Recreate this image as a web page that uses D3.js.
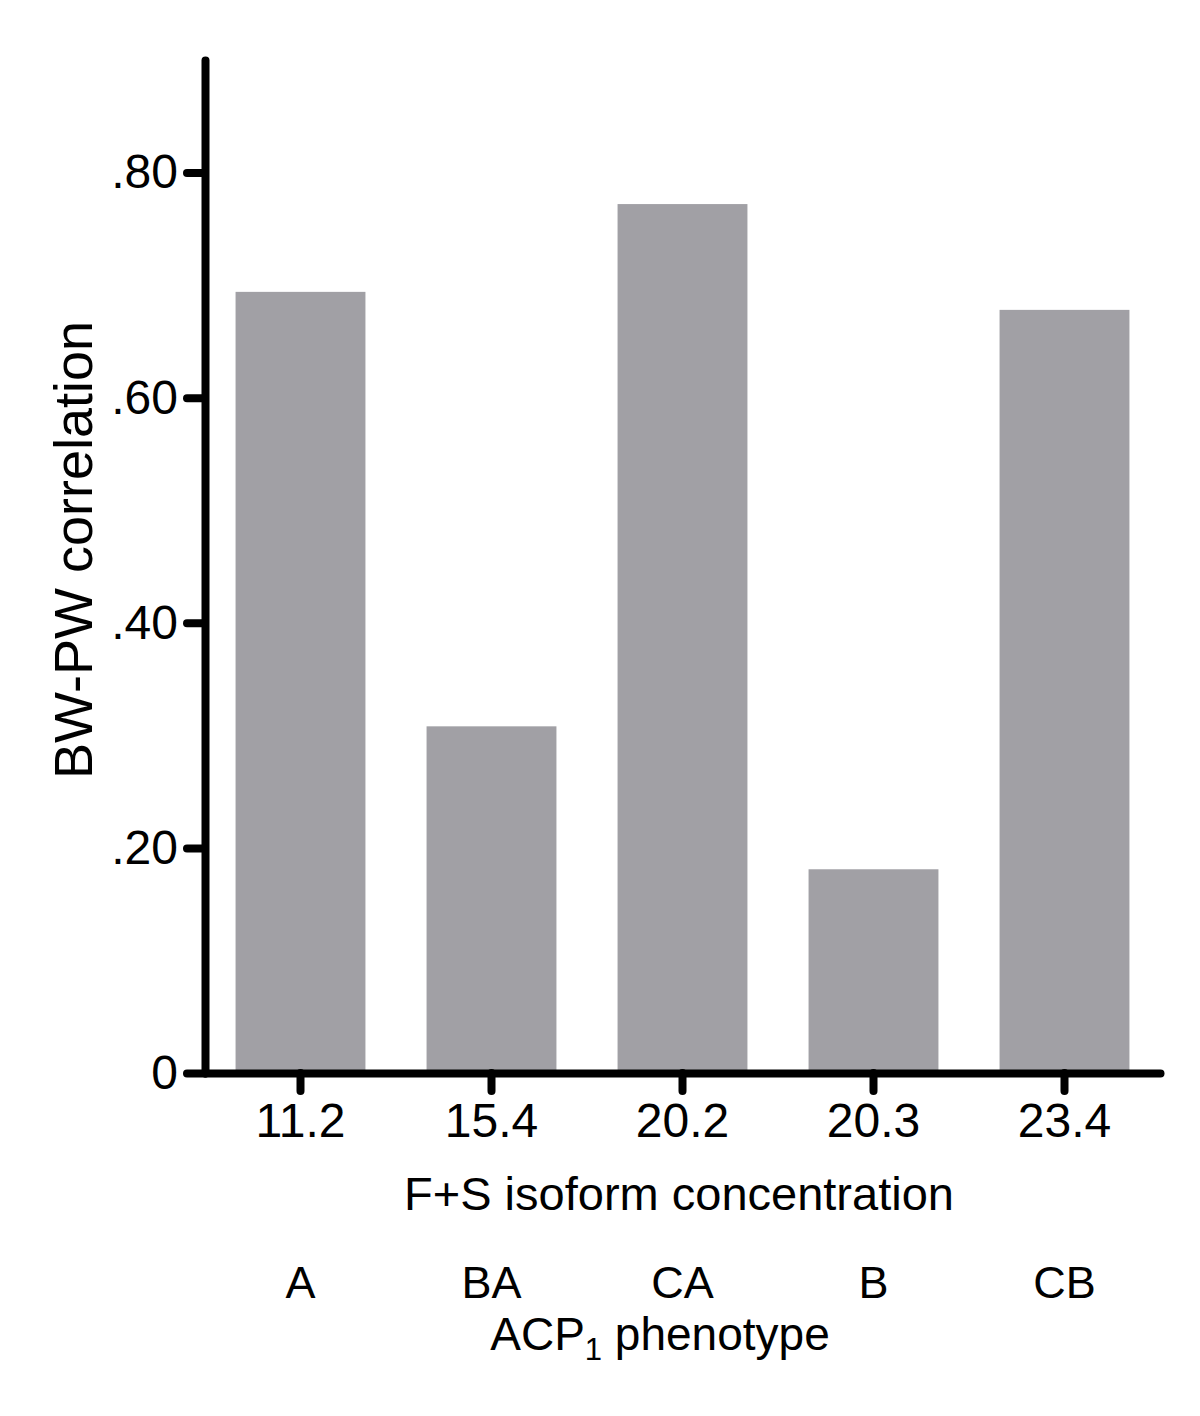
<!DOCTYPE html>
<html>
<head>
<meta charset="utf-8">
<script src="https://cdn.jsdelivr.net/npm/d3@7"></script>
<style>
  body { margin: 0; background: #fff; }
  text { font-family: "Liberation Sans", Arial, sans-serif; fill: #000; }
</style>
</head>
<body>
<div id="chart-area"></div>
<script>
// data
var concentrations = ["11.2", "15.4", "20.2", "20.3", "23.4"];
var phenotypes = ["A", "BA", "CA", "B", "CB"];
var correlations = [0.694, 0.308, 0.772, 0.181, 0.678];
var yTicks = [0, 0.2, 0.4, 0.6, 0.8];
var yTickLabels = ["0", ".20", ".40", ".60", ".80"];

var width = 1200, height = 1416;
var margin = { left: 205, top: 60, right: 40, bottom: 343 };

var svg = d3.select("#chart-area")
    .append("svg")
    .attr("width", width)
    .attr("height", height);

var x = d3.scaleBand()
    .domain(concentrations)
    .range([margin.left, width - margin.right])
    .paddingInner(0.32)
    .paddingOuter(0.16);

var y = d3.scaleLinear()
    .domain([0, 0.9])
    .range([height - margin.bottom, margin.top]);

// bars
svg.append("g").selectAll("rect")
    .data(correlations)
    .enter().append("rect")
    .attr("x", (d, i) => x(concentrations[i]))
    .attr("y", d => y(d))
    .attr("width", x.bandwidth())
    .attr("height", d => y(0) - y(d))
    .attr("fill", "#a1a0a5");

// y axis
svg.append("g")
    .attr("transform", "translate(" + margin.left + ",0)")
    .call(d3.axisLeft(y)
        .tickValues(yTicks)
        .tickFormat((d, i) => yTickLabels[i])
        .tickSize(18)
        .tickSizeOuter(0)
        .tickPadding(9));

// x axis
svg.append("g")
    .attr("transform", "translate(0," + y(0) + ")")
    .call(d3.axisBottom(x)
        .tickSize(18)
        .tickSizeOuter(0)
        .tickPadding(12));

svg.selectAll(".domain, .tick line")
    .attr("stroke", "#000")
    .attr("stroke-width", 8)
    .attr("stroke-linecap", "round");

svg.selectAll(".tick text")
    .attr("font-size", 48)
    .attr("font-family", "Liberation Sans, Arial, sans-serif")
    .attr("fill", "#000");

// axis titles
svg.append("text")
    .attr("transform", "rotate(-90)")
    .attr("x", -550)
    .attr("y", 92)
    .attr("text-anchor", "middle")
    .attr("font-size", 54)
    .text("BW-PW correlation");

svg.append("text")
    .attr("x", 679)
    .attr("y", 1210)
    .attr("text-anchor", "middle")
    .attr("font-size", 47)
    .text("F+S isoform concentration");

// phenotype row
svg.append("g").selectAll("text")
    .data(phenotypes)
    .enter().append("text")
    .attr("x", (d, i) => x(concentrations[i]) + x.bandwidth() / 2)
    .attr("y", 1298)
    .attr("text-anchor", "middle")
    .attr("font-size", 45)
    .text(d => d);

var acp = svg.append("text")
    .attr("x", 660)
    .attr("y", 1350)
    .attr("text-anchor", "middle")
    .attr("font-size", 46);
acp.append("tspan").text("ACP");
acp.append("tspan").attr("font-size", 31).attr("dy", 10).text("1");
acp.append("tspan").attr("dy", -10).text(" phenotype");
</script>
</body>
</html>
